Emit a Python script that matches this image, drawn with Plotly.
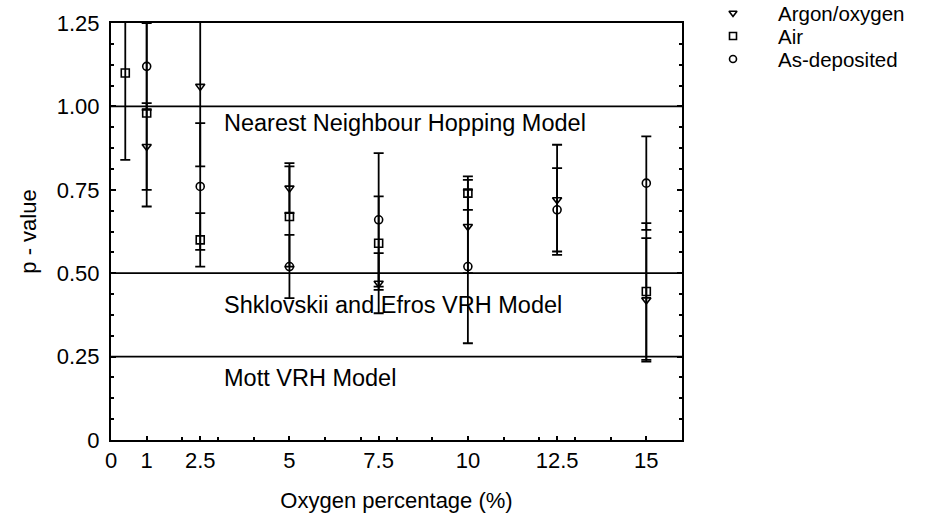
import plotly.graph_objects as go

# Oxygen percentage in the sputtering gas and fitted hopping exponent p
series_names = ["Argon/oxygen", "Air", "As-deposited"]

x_argon = [1, 2.5, 5, 7.5, 10, 12.5, 15]
p_argon = [0.88, 1.06, 0.755, 0.47, 0.64, 0.72, 0.42]
err_argon = [0.13, 0.24, 0.075, 0.09, 0.14, 0.165, 0.185]

x_air = [0.4, 1, 2.5, 5, 7.5, 10, 15]
p_air = [1.10, 0.98, 0.60, 0.67, 0.59, 0.74, 0.445]
err_air = [0.26, 0.28, 0.08, 0.15, 0.14, 0.05, 0.205]

x_dep = [1, 2.5, 5, 7.5, 10, 12.5, 15]
p_dep = [1.12, 0.76, 0.52, 0.66, 0.52, 0.69, 0.77]
err_dep = [0.13, 0.19, 0.095, 0.20, 0.23, 0.125, 0.14]

# Theoretical exponents of the conduction models
model_levels = [1.0, 0.5, 0.25]
model_names = ["Nearest Neighbour Hopping Model",
               "Shklovskii and Efros VRH Model",
               "Mott VRH Model"]

x_tick_values = [0, 1, 2.5, 5, 7.5, 10, 12.5, 15]
x_tick_labels = ["0", "1", "2.5", "5", "7.5", "10", "12.5", "15"]
y_tick_values = [0, 0.25, 0.5, 0.75, 1.0, 1.25]
y_tick_labels = ["0", "0.25", "0.50", "0.75", "1.00", "1.25"]

FONT = "Liberation Sans, Arial, sans-serif"
INK = "black"

symbols = ["triangle-down-open", "square-open", "circle-open"]
datasets = [(x_argon, p_argon, err_argon),
            (x_air, p_air, err_air),
            (x_dep, p_dep, err_dep)]

fig = go.Figure()

for name, sym, (xs, ps, es) in zip(series_names, symbols, datasets):
    fig.add_trace(go.Scatter(
        x=xs, y=ps, mode="markers", name=name, showlegend=False,
        marker=dict(symbol=sym, size=8, color=INK, line=dict(width=1.6, color=INK)),
        error_y=dict(type="data", array=es, visible=True,
                     color=INK, thickness=1.8, width=5),
        cliponaxis=True,
    ))

# model reference lines and their captions
caption_y = [0.95, 0.405, 0.185]
for level in model_levels:
    fig.add_shape(type="line", xref="x domain", yref="y",
                  x0=0, x1=1, y0=level, y1=level,
                  line=dict(color=INK, width=1.8))
for name, cy in zip(model_names, caption_y):
    fig.add_annotation(x=3.1, y=cy, xref="x", yref="y", text=name,
                       showarrow=False, xanchor="left", yanchor="middle",
                       font=dict(family=FONT, size=23.5, color=INK))

# key drawn beside the frame
key_rows = [13, 36, 59]
for name, sym, row in zip(series_names, symbols, key_rows):
    fig.add_trace(go.Scatter(
        x=[733], y=[row], xaxis="x2", yaxis="y2", mode="markers",
        showlegend=False, hoverinfo="skip",
        marker=dict(symbol=sym, size=7, color=INK, line=dict(width=1.6, color=INK)),
    ))
    fig.add_annotation(x=777, y=row, xref="x2", yref="y2", text=name,
                       showarrow=False, xanchor="left", yanchor="middle",
                       borderpad=0,
                       font=dict(family=FONT, size=20.5, color=INK))

fig.update_layout(
    width=927, height=527,
    margin=dict(l=111, r=5, t=5, b=87, autoexpand=False),
    paper_bgcolor="white", plot_bgcolor="white",
    font=dict(family=FONT, size=22, color=INK),
    showlegend=False,
    xaxis=dict(
        domain=[0, 571 / 811], range=[0, 16], automargin=False,
        tickmode="array", tickvals=x_tick_values, ticktext=x_tick_labels,
        ticks="inside", ticklen=4, tickwidth=1.5, tickcolor=INK,
        minor=dict(dtick=1, tick0=0, ticks="inside", ticklen=3, tickcolor=INK),
        showline=True, linecolor=INK, linewidth=2, mirror=True,
        showgrid=False, zeroline=False,
        title=dict(text="Oxygen percentage (%)", standoff=20,
                   font=dict(family=FONT, size=22, color=INK)),
        tickfont=dict(family=FONT, size=22, color=INK),
    ),
    yaxis=dict(
        domain=[0, 417 / 435], range=[0, 1.25], automargin=False,
        tickmode="array", tickvals=y_tick_values, ticktext=y_tick_labels,
        ticks="inside", ticklen=5, tickwidth=1.5, tickcolor=INK,
        minor=dict(dtick=0.0625, tick0=0, ticks="inside", ticklen=3, tickcolor=INK),
        showline=True, linecolor=INK, linewidth=2, mirror="allticks",
        showgrid=False, zeroline=False,
        ticklabelstandoff=5,
        title=dict(text="p - value", standoff=14,
                   font=dict(family=FONT, size=22, color=INK)),
        tickfont=dict(family=FONT, size=22, color=INK),
    ),
    xaxis2=dict(domain=[(700 - 111) / 811, 1.0], range=[700, 922],
                visible=False, fixedrange=True, automargin=False),
    yaxis2=dict(domain=[(440 - 65) / 435, 1.0], range=[65, 5],
                visible=False, fixedrange=True, anchor="x2", automargin=False),
)

fig.write_html("out.html")
